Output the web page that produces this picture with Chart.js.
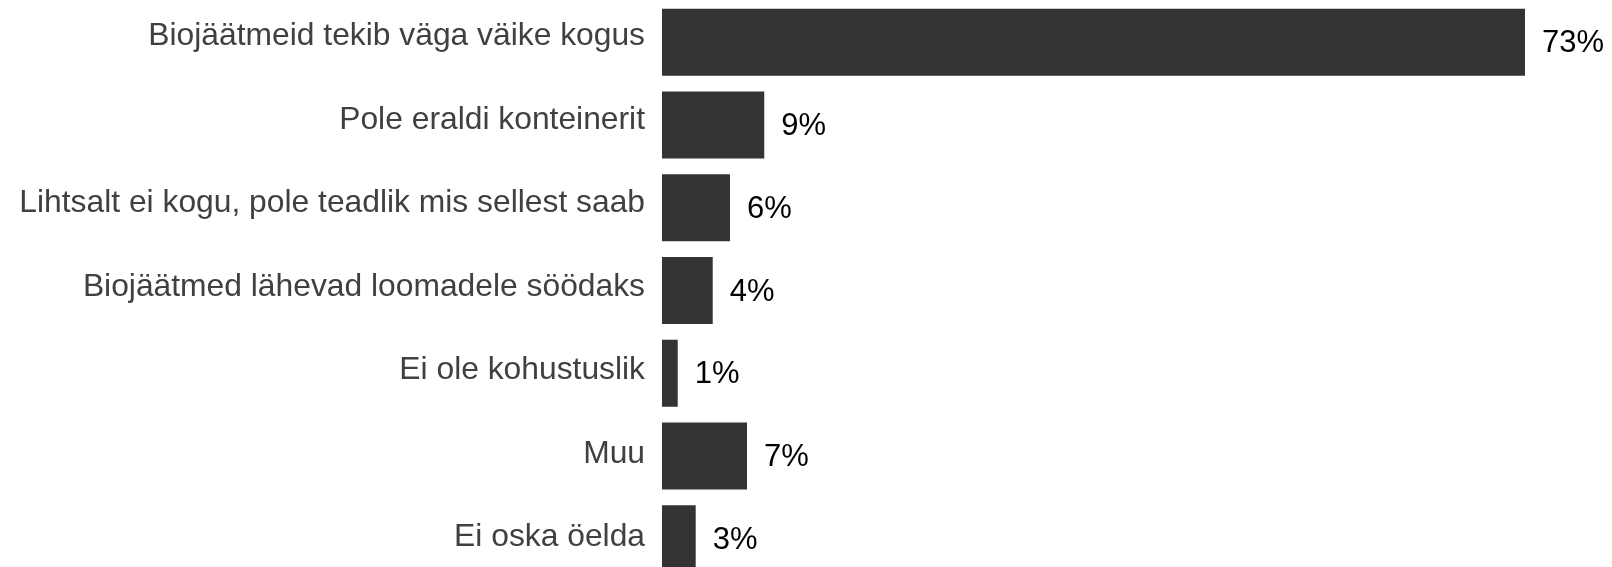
<!DOCTYPE html>
<html>
<head>
<meta charset="utf-8">
<script src="https://cdn.jsdelivr.net/npm/chart.js@4/dist/chart.umd.min.js"></script>
<style>
    html, body { margin: 0; padding: 0; background: #ffffff; overflow: hidden; }
    #wrap { width: 1612px; height: 580px; }
</style>
</head>
<body>
<div id="wrap"><canvas id="chartPohjused" width="1612" height="580"></canvas></div>
<script>
const categories = [
    'Biojäätmeid tekib väga väike kogus',
    'Pole eraldi konteinerit',
    'Lihtsalt ei kogu, pole teadlik mis sellest saab',
    'Biojäätmed lähevad loomadele söödaks',
    'Ei ole kohustuslik',
    'Muu',
    'Ei oska öelda'
];
const osakaal = [73, 8.65, 5.75, 4.29, 1.33, 7.19, 2.85];

const fontFamily = "'Liberation Sans', Arial, sans-serif";

// protsendid tulpade otsa
const valueLabels = {
    id: 'valueLabels',
    afterDatasetsDraw(chart) {
        const ctx = chart.ctx;
        const meta = chart.getDatasetMeta(0);
        ctx.save();
        ctx.font = '31px ' + fontFamily;
        ctx.fillStyle = '#000000';
        ctx.textAlign = 'left';
        ctx.textBaseline = 'middle';
        meta.data.forEach(function (bar, i) {
            ctx.fillText(Math.round(osakaal[i]) + '%', bar.x + 17, bar.y + 1.5);
        });
        ctx.restore();
    }
};

function initPohjusedChart(canvasId) {
    const ctx = document.getElementById(canvasId).getContext('2d');

    new Chart(ctx, {
        type: 'bar',
        data: {
            labels: categories,
            datasets: [{
                data: osakaal,
                backgroundColor: '#333333',
                borderWidth: 0,
                barPercentage: 0.81,
                categoryPercentage: 1,
            }]
        },
        plugins: [valueLabels],
        options: {
            indexAxis: 'y',
            responsive: false,
            animation: false,
            layout: {
                padding: { top: 1, right: 4.25, bottom: 0, left: 0 }
            },
            plugins: {
                legend: { display: false },
                tooltip: { enabled: false }
            },
            scales: {
                x: {
                    display: false,
                    min: 0,
                    max: 80
                },
                y: {
                    display: false
                },
                // kategooriate nimed on originaalis veidi teise sammuga kui tulbad
                yLab: {
                    type: 'linear',
                    position: 'left',
                    reverse: true,
                    offset: false,
                    bounds: 'data',
                    min: -0.4276,
                    max: 6.507,
                    grid: { display: false, drawTicks: false },
                    border: { display: false },
                    afterBuildTicks: function (scale) {
                        scale.ticks = categories.map(function (c, i) {
                            return { value: i };
                        });
                    },
                    afterFit: function (scale) {
                        scale.width = 662;
                        scale.paddingTop = 0;
                        scale.paddingBottom = 0;
                    },
                    ticks: {
                        autoSkip: false,
                        color: '#404040',
                        padding: 17,
                        font: {
                            family: fontFamily,
                            size: 31.8
                        },
                        callback: function (value) {
                            return categories[value];
                        }
                    }
                }
            }
        }
    });
}

document.addEventListener("DOMContentLoaded", function () {
    initPohjusedChart('chartPohjused');
});
</script>
</body>
</html>
